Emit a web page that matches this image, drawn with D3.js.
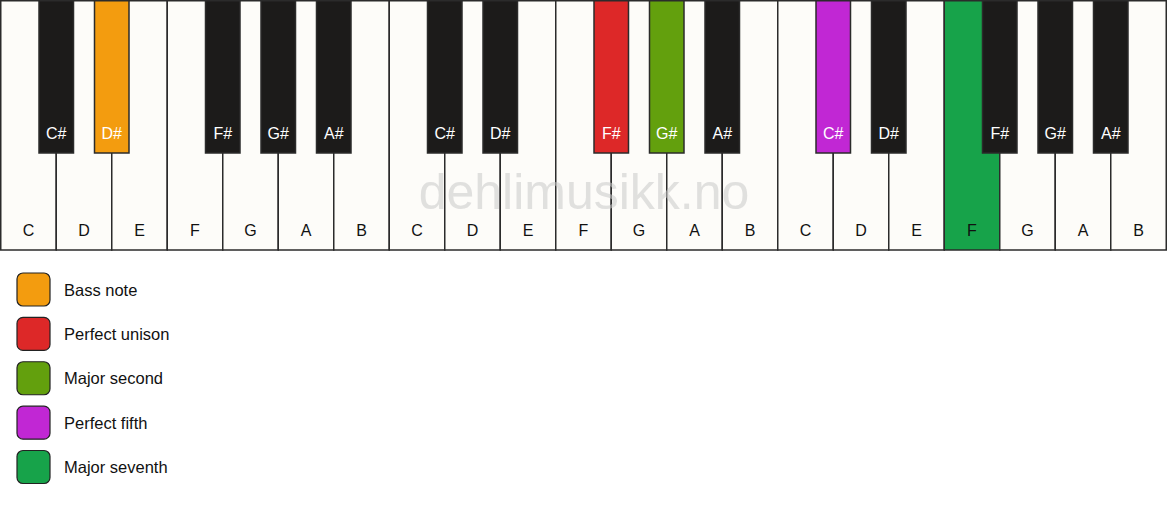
<!DOCTYPE html>
<html>
<head>
    <meta charset="utf-8">
    <style>
        body {
            margin: 0;
            background: white;
            overflow: hidden;
        }
        svg {
            display: block;
        }
        text {
            font-family: "Liberation Sans", Arial, sans-serif;
        }
    </style>
    <script src="https://d3js.org/d3.v7.min.js"></script>
</head>
<body>
<script>
const width = 1167;
const height = 506;

// keyboard data
const octaves = 3;
const whiteNotes = ["C", "D", "E", "F", "G", "A", "B"];
// black key name and the white key index (within octave) it follows
const blackNotes = ["C#", "D#", "F#", "G#", "A#"];
const blackAfter = [0, 1, 3, 4, 5];

// highlighted keys: note name + octave number
const highlightKeys = ["D#0", "F#1", "G#1", "C#2", "F2"];
const highlightColors = ["#f39c0f", "#dd2828", "#63a00d", "#c127d4", "#17a34a"];

// legend
const legendLabels = ["Bass note", "Perfect unison", "Major second", "Perfect fifth", "Major seventh"];
const legendColors = ["#f39c0f", "#dd2828", "#63a00d", "#c127d4", "#17a34a"];

const colorOf = d3.scaleOrdinal().domain(highlightKeys).range(highlightColors).unknown(null);

const whites = [];
for (let o = 0; o < octaves; o++) {
    whiteNotes.forEach((n, i) => whites.push({ name: n, id: n + o, idx: o * 7 + i }));
}
const blacks = [];
for (let o = 0; o < octaves; o++) {
    blackNotes.forEach((n, i) => blacks.push({ name: n, id: n + o, after: o * 7 + blackAfter[i] }));
}

const x = d3.scaleLinear().domain([0, whites.length]).range([0.75, width - 0.75]);
const keyTop = 0.75, keyBottom = 250, blackBottom = 153;
const blackW = 34.5;

const svg = d3.select("body").append("svg")
    .attr("width", width)
    .attr("height", height);

const wg = svg.append("g").selectAll("g")
    .data(whites)
    .join("g");

wg.append("rect")
    .attr("x", d => x(d.idx))
    .attr("y", keyTop)
    .attr("width", x(1) - x(0))
    .attr("height", keyBottom - keyTop)
    .attr("fill", d => colorOf(d.id) || "#fdfcf9")
    .attr("stroke", "#2b2b2b")
    .attr("stroke-width", 1.5);

wg.append("text")
    .attr("x", d => x(d.idx + 0.5))
    .attr("y", 236)
    .attr("text-anchor", "middle")
    .attr("font-size", 16)
    .attr("fill", "#111")
    .text(d => d.name);

// watermark
svg.append("text")
    .attr("x", width / 2 + 0.5)
    .attr("y", 209)
    .attr("text-anchor", "middle")
    .attr("font-size", 50)
    .attr("fill", "#c8c8c8")
    .attr("fill-opacity", 0.55)
    .text("dehlimusikk.no");

const bg = svg.append("g").selectAll("g")
    .data(blacks)
    .join("g");

bg.append("rect")
    .attr("x", d => x(d.after + 1) - blackW / 2)
    .attr("y", keyTop)
    .attr("width", blackW)
    .attr("height", blackBottom - keyTop)
    .attr("fill", d => colorOf(d.id) || "#1c1b1a")
    .attr("stroke", "#2b2b2b")
    .attr("stroke-width", 1.5);

bg.append("text")
    .attr("x", d => x(d.after + 1))
    .attr("y", 139)
    .attr("text-anchor", "middle")
    .attr("font-size", 16)
    .attr("fill", "white")
    .text(d => d.name);

// legend
const ly = d3.scalePoint().domain(legendLabels).range([289.5, 467]);

const lg = svg.append("g").selectAll("g")
    .data(legendLabels)
    .join("g")
    .attr("transform", d => `translate(0,${ly(d)})`);

lg.append("rect")
    .attr("x", 17)
    .attr("y", -16.5)
    .attr("width", 33)
    .attr("height", 33)
    .attr("rx", 6)
    .attr("fill", (d, i) => legendColors[i])
    .attr("stroke", "#222")
    .attr("stroke-width", 1.2);

lg.append("text")
    .attr("x", 64)
    .attr("y", 6)
    .attr("font-size", 16.5)
    .attr("fill", "#111")
    .text(d => d);
</script>
</body>
</html>
